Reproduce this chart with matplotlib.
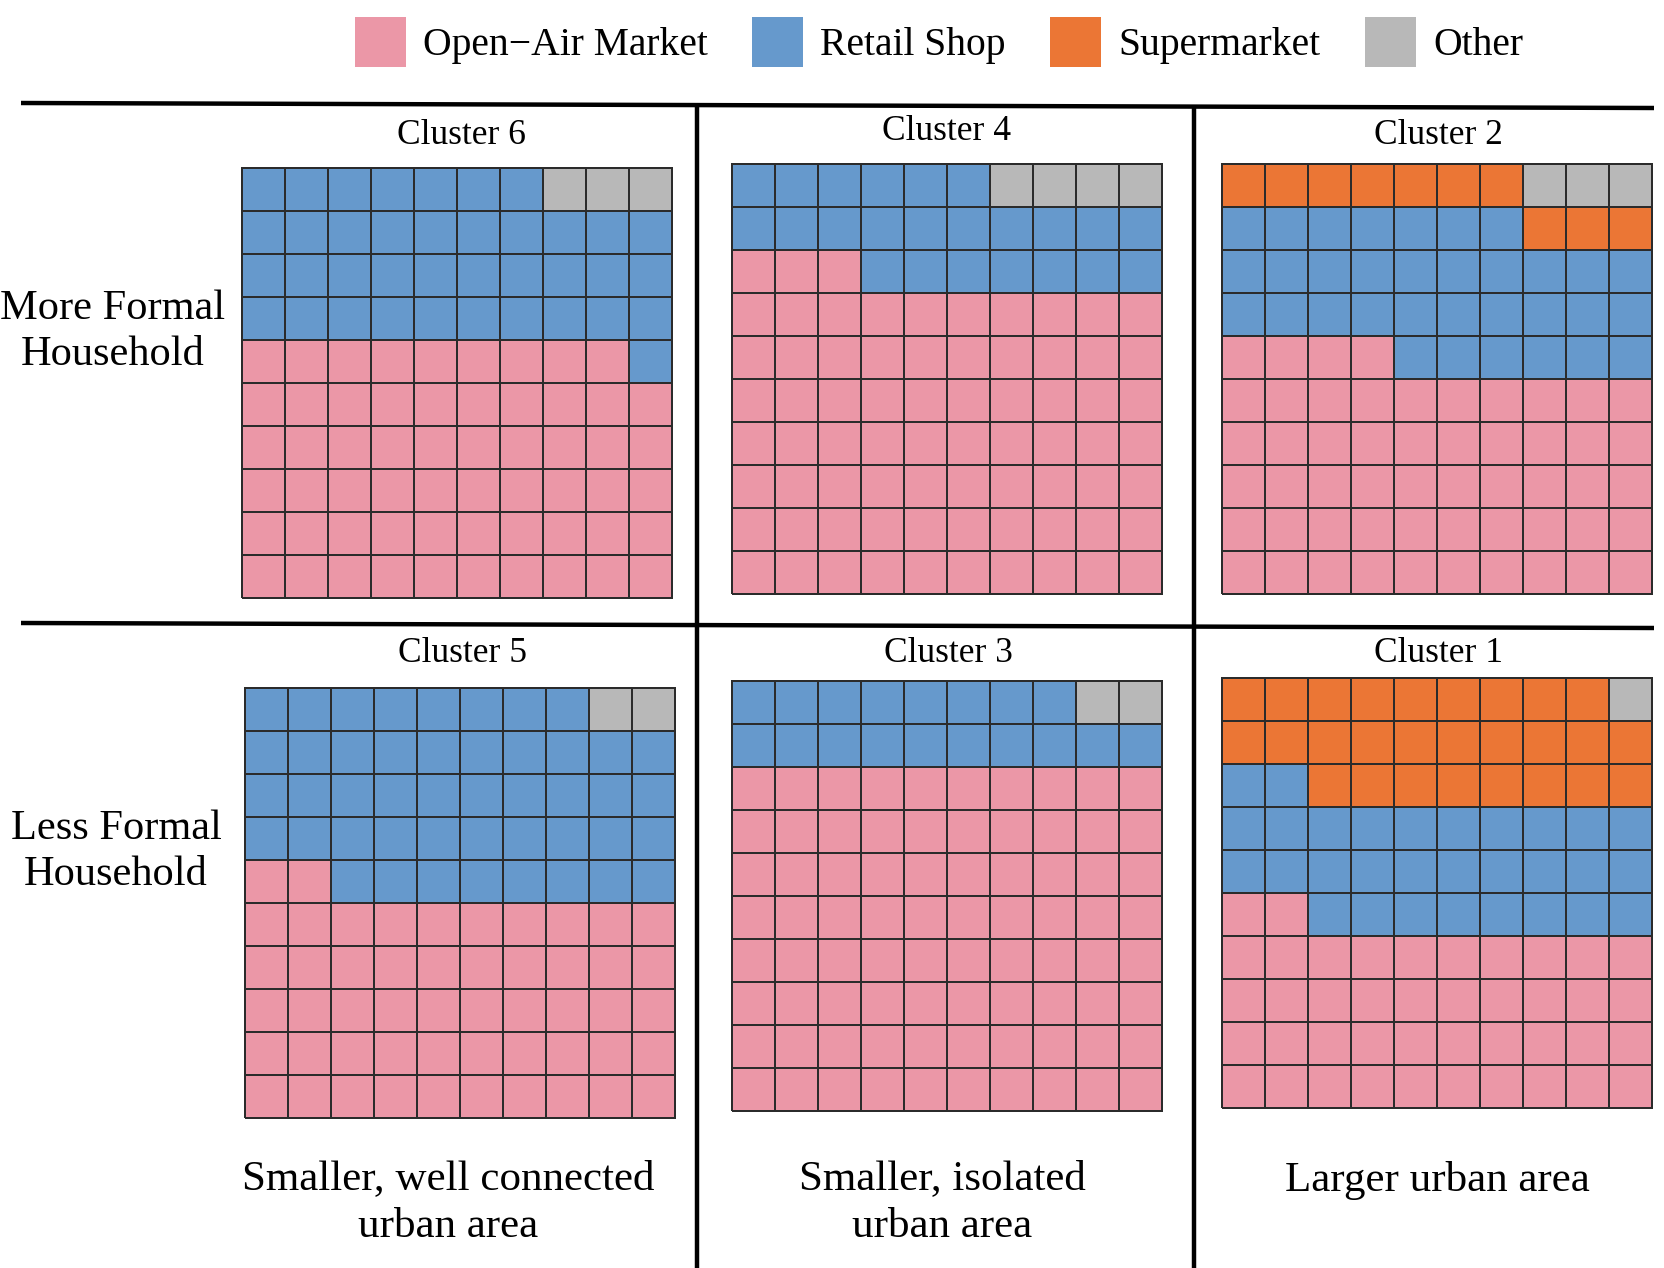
import numpy as np
import matplotlib
matplotlib.use("Agg")
import matplotlib.pyplot as plt
from matplotlib.colors import ListedColormap
from matplotlib.patches import Patch

plt.rcParams['font.family'] = ['Liberation Serif', 'DejaVu Serif']

# data: number of households (out of 100) by main food source
clusters = ["Cluster 6", "Cluster 4", "Cluster 2", "Cluster 5", "Cluster 3", "Cluster 1"]
open_air = [59, 73, 54, 52, 80, 42]
retail = [38, 23, 33, 46, 18, 30]
supermarket = [0, 0, 10, 0, 0, 27]
other = [3, 4, 3, 2, 2, 1]
categories = ["Open\u2212Air Market", "Retail Shop", "Supermarket", "Other"]
colors = ["#EB97A7", "#6699CC", "#EB7635", "#B8B8B8"]
row_labels = ["More Formal\nHousehold", "Less Formal\nHousehold"]
col_labels = ["Smaller, well connected\nurban area", "Smaller, isolated\nurban area", "Larger urban area"]

W, H = 1664, 1268
fig = plt.figure(figsize=(W / 100, H / 100), dpi=100)


def box(x0, y0, x1, y1):
    return [x0 / W, 1 - y1 / H, (x1 - x0) / W, (y1 - y0) / H]


# pixel boxes of the six waffles (left, top, right, bottom)
waffle_boxes = [
    (242, 168, 672, 598), (732, 164, 1162, 594), (1222, 164, 1652, 594),
    (245, 688, 675, 1118), (732, 681, 1162, 1111), (1222, 678, 1652, 1108),
]
title_pos = [(461, 135), (947, 131), (1438, 135), (462, 654), (948, 654), (1438, 654)]

cmap = ListedColormap(colors)
for i, name in enumerate(clusters):
    counts = [open_air[i], retail[i], supermarket[i], other[i]]
    flat = np.repeat(np.arange(4), counts)
    grid = flat.reshape(10, 10)  # row 0 is the bottom row
    ax = fig.add_axes(box(*waffle_boxes[i]))
    mesh = ax.pcolormesh(grid, cmap=cmap, vmin=-0.5, vmax=3.5,
                         edgecolors="#2b2b2b", linewidth=1.1)
    mesh.set_clip_on(False)
    ax.set_xlim(0, 10)
    ax.set_ylim(0, 10)
    ax.axis("off")

# overlay for separators and labels
ov = fig.add_axes([0, 0, 1, 1], zorder=-1)
ov.set_xlim(0, W)
ov.set_ylim(H, 0)
ov.axis("off")

ov.plot([21, 1654], [103, 108], color="black", lw=3.2, solid_capstyle="butt")
ov.plot([21, 1654], [623, 628], color="black", lw=3.2, solid_capstyle="butt")
ov.plot([697, 697], [104, H], color="black", lw=3.2, solid_capstyle="butt")
ov.plot([1194, 1194], [106, H], color="black", lw=3.2, solid_capstyle="butt")

for i, name in enumerate(clusters):
    ov.text(title_pos[i][0], title_pos[i][1], name, fontsize=25.5,
            ha="center", va="center")

ov.text(113, 332, row_labels[0], fontsize=30.5, ha="center", va="center", linespacing=1.27)
ov.text(116, 852, row_labels[1], fontsize=30.5, ha="center", va="center", linespacing=1.27)

ov.text(448, 1203, col_labels[0], fontsize=31, ha="center", va="center", linespacing=1.32)
ov.text(942, 1203, col_labels[1], fontsize=31, ha="center", va="center", linespacing=1.32)
ov.text(1437, 1180, col_labels[2], fontsize=31, ha="center", va="center")

handles = [Patch(facecolor=c, edgecolor="none") for c in colors]
fig.legend(handles, categories, loc="center", bbox_to_anchor=(939 / W, 1 - 42 / H),
           ncol=4, frameon=False, fontsize=28.5, handlelength=1.29, handleheight=1.57,
           handletextpad=0.43, columnspacing=1.12)

fig.savefig("out.png", dpi=100, facecolor="white")
